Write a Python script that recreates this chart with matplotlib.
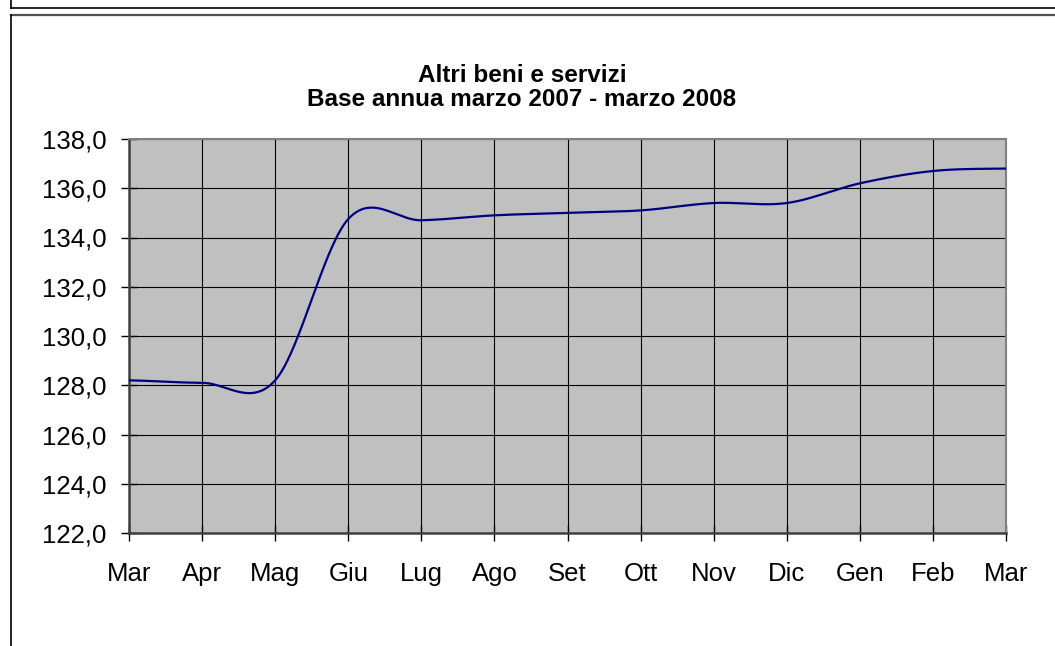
import numpy as np
import matplotlib
matplotlib.use("Agg")
import matplotlib.pyplot as plt
from matplotlib.lines import Line2D
from matplotlib.ticker import FixedLocator, FuncFormatter

months = ["Mar", "Apr", "Mag", "Giu", "Lug", "Ago", "Set", "Ott", "Nov", "Dic", "Gen", "Feb", "Mar"]
values = [128.2, 128.1, 128.2, 134.75, 134.7, 134.9, 135.0, 135.1, 135.4, 135.4, 136.2, 136.7, 136.8]
title_lines = ["Altri beni e servizi", "Base annua marzo 2007 - marzo 2008"]
y_ticks = [122, 124, 126, 128, 130, 132, 134, 136, 138]

plt.rcParams['font.family'] = ['Liberation Sans', 'DejaVu Sans']

fig = plt.figure(figsize=(10.55, 6.46), dpi=100)
W, H = 1055, 646
ax = fig.add_axes([129 / W, 1 - 533 / H, (1006 - 129) / W, (533 - 139) / H])
ax.set_facecolor('#C0C0C0')

# Smoothed line (Catmull-Rom style Bezier, like Excel's smoothed line)
x = np.arange(len(values), dtype=float)
y = np.array(values, dtype=float)
yp = np.concatenate([[y[0]], y, [y[-1]]])
xs, ys = [], []
t = np.linspace(0, 1, 60)
for i in range(len(y) - 1):
    p0, p3 = y[i], y[i + 1]
    c1 = p0 + (yp[i + 2] - yp[i]) / 6.0
    c2 = p3 - (yp[i + 3] - yp[i + 1]) / 6.0
    seg = (1 - t) ** 3 * p0 + 3 * (1 - t) ** 2 * t * c1 + 3 * (1 - t) * t ** 2 * c2 + t ** 3 * p3
    xs.append(x[i] + t)
    ys.append(seg)
xs = np.concatenate(xs)
ys = np.concatenate(ys)
ax.plot(xs, ys, color='#000080', lw=1.6, zorder=3, solid_capstyle='round')

ax.set_xlim(0, len(values) - 1)
ax.set_ylim(122, 138)
ax.xaxis.set_major_locator(FixedLocator(x))
ax.set_xticklabels(months)
ax.yaxis.set_major_locator(FixedLocator(y_ticks))
ax.yaxis.set_major_formatter(FuncFormatter(lambda v, p: f"{v:.1f}".replace('.', ',')))
ax.grid(True, color='black', lw=0.8, zorder=1)
ax.set_axisbelow(True)
ax.tick_params(axis='both', direction='inout', length=12, width=1, color='black',
               labelsize=18.5, colors='black')
ax.tick_params(axis='x', pad=15)
ax.tick_params(axis='y', pad=10)
for s in ['top', 'right']:
    ax.spines[s].set_color('#808080')
    ax.spines[s].set_linewidth(1.5)
for s in ['left', 'bottom']:
    ax.spines[s].set_color('#404040')
    ax.spines[s].set_linewidth(1.8)

fig.text(522 / W, 1 - 75 / H, title_lines[0], ha='center', va='center',
         fontsize=17.5, fontweight='bold')
fig.text(522 / W, 1 - 99 / H, title_lines[1], ha='center', va='center',
         fontsize=17.5, fontweight='bold')

# Frames
def fl(x0, y0, x1, y1, color='black', lw=1.2):
    fig.add_artist(Line2D([x0 / W, x1 / W], [1 - y0 / H, 1 - y1 / H],
                          transform=fig.transFigure, color=color, lw=lw))

fl(10.5, 0, 10.5, 7.5)
fl(10.5, 7.5, 1055, 7.5)
fl(10.5, 15, 1055, 15, color='#505050', lw=1.6)
fl(10.5, 15, 10.5, 646)

fig.savefig('out.png', dpi=100)
